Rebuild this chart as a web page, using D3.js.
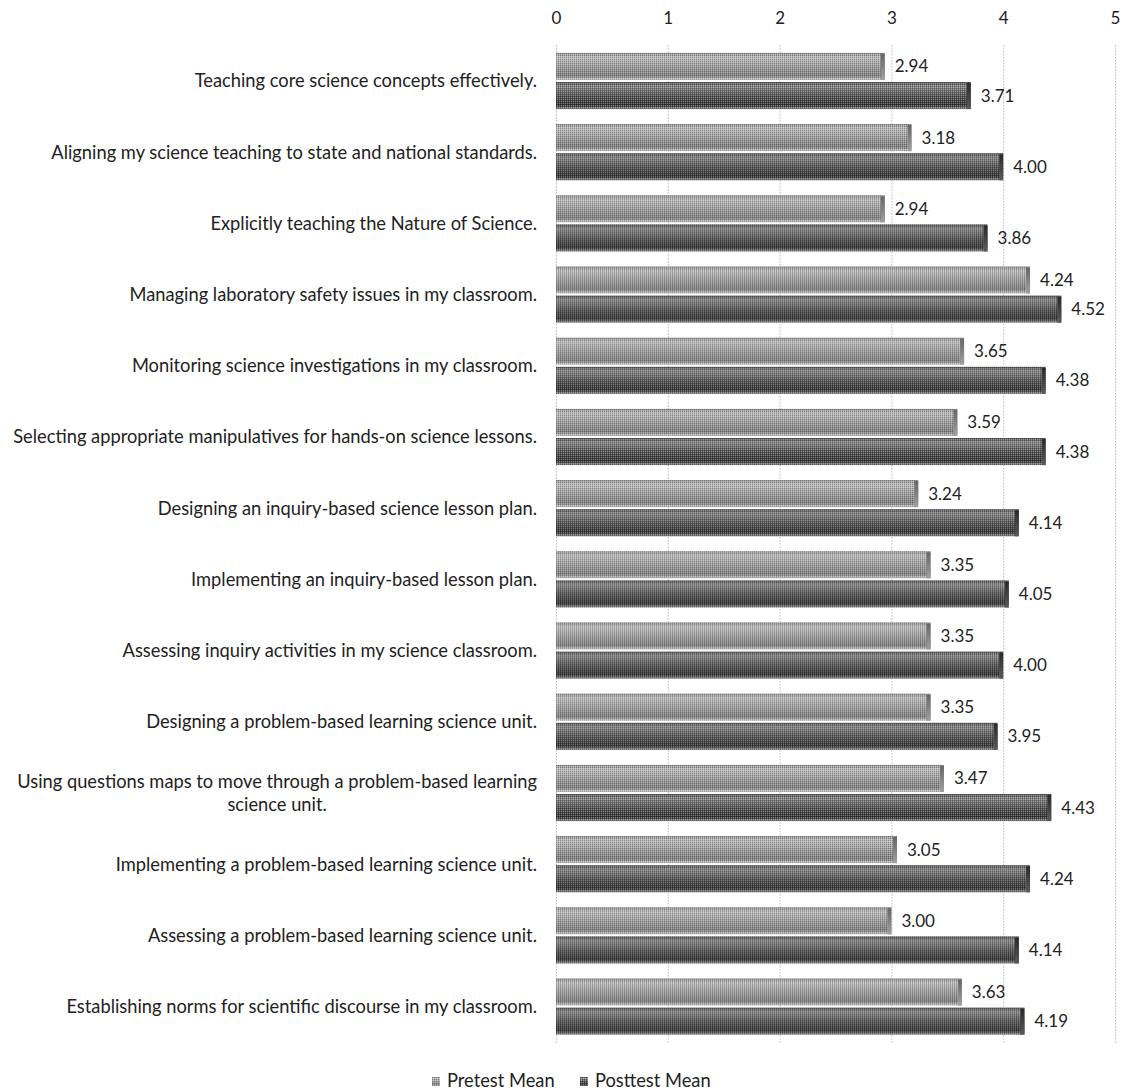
<!DOCTYPE html>
<html>
<head>
<meta charset="utf-8">
<script src="https://cdn.jsdelivr.net/npm/d3@7"></script>
<style>
  body { margin: 0; background: #fff; }
  text { font-family: Lato, "Open Sans", sans-serif; fill: #222; }
</style>
</head>
<body>
<div id="chart"></div>
<script>
var categories = [
    "Teaching core science concepts effectively.",
    "Aligning my science teaching to state and national standards.",
    "Explicitly teaching the Nature of Science.",
    "Managing laboratory safety issues in my classroom.",
    "Monitoring science investigations in my classroom.",
    "Selecting appropriate manipulatives for hands-on science lessons.",
    "Designing an inquiry-based science lesson plan.",
    "Implementing an inquiry-based lesson plan.",
    "Assessing inquiry activities in my science classroom.",
    "Designing a problem-based learning science unit.",
    "Using questions maps to move through a problem-based learning\nscience unit.",
    "Implementing a problem-based learning science unit.",
    "Assessing a problem-based learning science unit.",
    "Establishing norms for scientific discourse in my classroom."
];
var pretestMean  = [2.94, 3.18, 2.94, 4.24, 3.65, 3.59, 3.24, 3.35, 3.35, 3.35, 3.47, 3.05, 3.00, 3.63];
var posttestMean = [3.71, 4.00, 3.86, 4.52, 4.38, 4.38, 4.14, 4.05, 4.00, 3.95, 4.43, 4.24, 4.14, 4.19];
var tickValues = [0, 1, 2, 3, 4, 5];
var seriesNames = ["Pretest Mean", "Posttest Mean"];

function init(){
    var w = 1124;
    var h = 1092;
    var top = 45.4, bottom = 1042.2;

    var svg = d3.select("#chart")
        .append("svg")
        .attr("width", w)
        .attr("height", h);

    var defs = svg.append("defs");

    // shaded "cylinder" look for the 3D bars
    function grad(id, stops) {
        var g = defs.append("linearGradient").attr("id", id)
            .attr("x1", 0).attr("y1", 0).attr("x2", 0).attr("y2", 1);
        stops.forEach(function(s) {
            g.append("stop").attr("offset", s[0]).attr("stop-color", s[1]);
        });
    }
    grad("gPre",  [[0, "#8e8e8e"], [0.15, "#c0c0c0"], [0.5, "#a0a0a0"], [0.85, "#808080"], [1, "#d0d0d0"]]);
    grad("gPost", [[0, "#505050"], [0.15, "#888888"], [0.5, "#555555"], [0.85, "#333333"], [1, "#909090"]]);
    grad("gCapPre",  [[0, "#666"], [1, "#a0a0a0"]]);
    grad("gCapPost", [[0, "#2a2a2a"], [1, "#5a5a5a"]]);

    // halftone grain
    var pat = defs.append("pattern").attr("id", "grain")
        .attr("width", 2).attr("height", 2).attr("patternUnits", "userSpaceOnUse");
    pat.append("rect").attr("width", 1).attr("height", 1).attr("fill", "#000").attr("opacity", 0.3);
    pat.append("rect").attr("x", 1).attr("y", 1).attr("width", 1).attr("height", 1).attr("fill", "#fff").attr("opacity", 0.35);

    var x = d3.scaleLinear().domain([0, 5]).range([556, 1115]);
    var y = d3.scaleBand()
        .domain(d3.range(categories.length))
        .range([top, bottom])
        .paddingInner(0.21)
        .paddingOuter(0.105);
    var ySub = d3.scaleBand().domain([0, 1]).range([0, y.bandwidth()]).paddingInner(0.07);

    // top axis with dotted gridlines
    var axis = svg.append("g")
        .attr("transform", "translate(0," + top + ")")
        .call(d3.axisTop(x).tickValues(tickValues).tickFormat(d3.format("d"))
            .tickSize(-(bottom - top)).tickPadding(21));
    axis.select(".domain").remove();
    axis.selectAll(".tick line")
        .attr("stroke", "#999")
        .attr("stroke-dasharray", "1,2");
    axis.selectAll(".tick text")
        .style("font-family", "Lato, sans-serif")
        .style("font-size", "17px")
        .attr("fill", "#333");

    var series = [pretestMean, posttestMean];
    var fills = ["url(#gPre)", "url(#gPost)"];
    var caps = ["url(#gCapPre)", "url(#gCapPost)"];

    series.forEach(function(vals, s) {
        var g = svg.append("g");
        var rows = g.selectAll("g.bar")
            .data(vals)
            .enter()
            .append("g")
            .attr("class", "bar")
            .attr("transform", function(d, i) {
                return "translate(0," + (y(i) + ySub(s)) + ")";
            });
        rows.append("rect")
            .attr("x", x(0))
            .attr("width", function(d) { return x(d) - x(0); })
            .attr("height", ySub.bandwidth())
            .attr("fill", fills[s]);
        rows.append("rect")
            .attr("x", x(0))
            .attr("width", function(d) { return x(d) - x(0); })
            .attr("height", ySub.bandwidth())
            .attr("fill", "url(#grain)");
        rows.append("rect")
            .attr("x", function(d) { return x(d) - 4; })
            .attr("y", 1)
            .attr("width", 4)
            .attr("height", ySub.bandwidth() - 1)
            .attr("fill", caps[s]);
        rows.append("text")
            .text(function(d) { return d3.format(".2f")(d); })
            .attr("x", function(d) { return x(d) + 10; })
            .attr("y", ySub.bandwidth() / 2)
            .attr("dy", "0.35em")
            .style("font-size", "17px")
            .attr("fill", "#333");
    });

    // category labels, right aligned, wrapped lines centred on each other
    var labelRight = 537;
    categories.forEach(function(c, i) {
        var lines = c.split("\n");
        var cy = y(i) + y.bandwidth() / 2;
        var lh = 23;
        var t0 = cy - (lines.length - 1) * lh / 2;
        var first = svg.append("text")
            .text(lines[0])
            .attr("x", labelRight)
            .attr("y", t0)
            .attr("dy", "0.35em")
            .attr("text-anchor", "end")
            .style("font-size", "18.3px");
        if (lines.length > 1) {
            var len = first.node().getComputedTextLength();
            for (var k = 1; k < lines.length; k++) {
                svg.append("text")
                    .text(lines[k])
                    .attr("x", labelRight - len / 2)
                    .attr("y", t0 + k * lh)
                    .attr("dy", "0.35em")
                    .attr("text-anchor", "middle")
                    .style("font-size", "18.3px");
            }
        }
    });

    // legend
    var legendX = [432, 580];
    var legend = svg.selectAll("g.legend")
        .data(seriesNames)
        .enter()
        .append("g")
        .attr("class", "legend")
        .attr("transform", function(d, i) { return "translate(" + legendX[i] + ",1077)"; });
    legend.append("rect")
        .attr("width", 8)
        .attr("height", 9)
        .attr("fill", function(d, i) { return fills[i]; });
    legend.append("rect")
        .attr("width", 8)
        .attr("height", 9)
        .attr("fill", "url(#grain)");
    legend.append("text")
        .text(function(d) { return d; })
        .attr("x", 15)
        .attr("y", 10)
        .style("font-size", "18.3px")
        .attr("fill", "#333");
}
window.onload = init;
</script>
</body>
</html>
